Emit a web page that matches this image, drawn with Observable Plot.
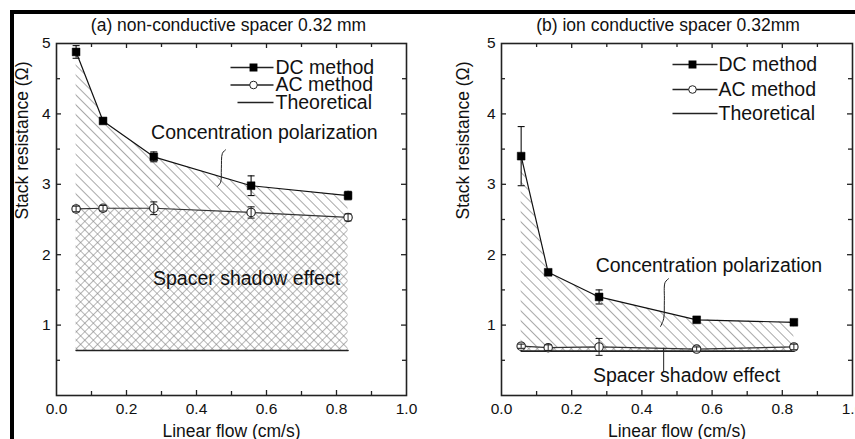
<!DOCTYPE html>
<html><head><meta charset="utf-8">
<script src="https://cdn.jsdelivr.net/npm/d3@7"></script>
<script src="https://cdn.jsdelivr.net/npm/@observablehq/plot@0.6"></script>
<style>
html,body{margin:0;padding:0;background:#fff;}
#wrap{position:relative;width:855px;height:439px;overflow:hidden;background:#fff;}
.panel{position:absolute;top:0;}
#border{position:absolute;left:10px;top:10px;width:900px;height:500px;border-left:4px solid #000;border-top:4px solid #000;pointer-events:none;}
</style></head><body>
<div id="wrap"><div id="pa" class="panel" style="left:0"></div><div id="pb" class="panel" style="left:427px"></div><div id="border"></div></div>
<script>
// ---- data ----
const flow = [0.056, 0.133, 0.278, 0.556, 0.833];
const dcA = [4.88, 3.90, 3.39, 2.98, 2.84];
const dcAErr = [0.09, 0.03, 0.07, 0.14, 0.06];
const acA = [2.65, 2.66, 2.66, 2.60, 2.53];
const acAErr = [0.04, 0.04, 0.09, 0.08, 0.05];
const theoA = 0.64;
const dcB = [3.40, 1.75, 1.40, 1.075, 1.04];
const dcBErr = [0.42, 0.03, 0.10, 0.03, 0.03];
const acB = [0.70, 0.68, 0.69, 0.66, 0.69];
const acBErr = [0.03, 0.04, 0.12, 0.03, 0.04];
const theoB = 0.63;
const xTickLabels = [0, 0.2, 0.4, 0.6, 0.8, 1.0];
const yTickLabels = [1, 2, 3, 4, 5];
const xMajor = [0.2, 0.4, 0.6, 0.8];
const xMinor = [0.1, 0.3, 0.5, 0.7, 0.9];
const yMajor = [1, 2, 3, 4];
const yMinor = [0.5, 1.5, 2.5, 3.5, 4.5];
const legendLabels = ["DC method", "AC method", "Theoretical"];
const titles = ["(a) non-conductive spacer 0.32 mm", "(b) ion conductive spacer 0.32mm"];
const xLabel = "Linear flow (cm/s)";
const yLabel = "Stack resistance (\u03A9)";
// annotation anchors (data coordinates)
const braceA = [[0.483, 3.49], [0.474, 3.44], [0.471, 3.22], [0.469, 3.03], [0.460, 2.97]];
const braceB = [[0.476, 1.66], [0.466, 1.605], [0.464, 1.35], [0.462, 1.09], [0.453, 0.98]];
const notesA = [{x: 0.594, y: 3.73, t: "Concentration polarization"}, {x: 0.543, y: 1.66, t: "Spacer shadow effect"}];
const notesB = [{x: 0.591, y: 1.84, t: "Concentration polarization"}, {x: 0.527, y: 0.28, t: "Spacer shadow effect"}];
const shadowLineB = {x: 0.462, y1: 0.33, y2: 0.67};

const FONT = "'Liberation Sans', Arial, Helvetica, sans-serif";
const hline = {draw(ctx, size) { const r = Math.sqrt(size / Math.PI); ctx.moveTo(-r, 0); ctx.lineTo(r, 0); }};

function panel(cfg) {
  const rows = flow.map((x, i) => ({x, dc: cfg.dc[i], dcErr: cfg.dcErr[i], ac: cfg.ac[i], acErr: cfg.acErr[i], th: cfg.theo}));
  const W = cfg.width, H = 439, mt = 43, mb = 44, ml = cfg.ml, mr = cfg.mr;
  const fw = W - ml - mr, fh = H - mt - mb;
  const tc = "#222";
  const legend = legendLabels.flatMap((label, i) => {
    const dy = cfg.legRows[i];
    const m = [Plot.dot([0], {x: null, y: null, frameAnchor: "top-right", dx: cfg.legLine[i][0], dy, symbol: hline, r: cfg.legLine[i][1], stroke: "#222", strokeWidth: 1.3, fill: "none"})];
    if (i === 0) m.push(Plot.dot([0], {x: null, y: null, frameAnchor: "top-right", dx: cfg.legMark, dy, symbol: "square", r: 3.6, fill: "#000", stroke: "#000"}));
    if (i === 1) m.push(Plot.dot([0], {x: null, y: null, frameAnchor: "top-right", dx: cfg.legMark, dy, symbol: "circle", r: 3.8, fill: "#fff", stroke: "#222", strokeWidth: 1}));
    m.push(Plot.text([label], {x: null, y: null, frameAnchor: "top-right", lineAnchor: "middle", dx: cfg.legText, dy, textAnchor: "start", fontSize: 19.5, fill: "#111"}));
    return m;
  });
  const svg = Plot.plot({
    width: W, height: H, marginTop: mt, marginBottom: mb, marginLeft: ml, marginRight: mr,
    style: {fontFamily: FONT, fontSize: "15.5px", color: "#111", background: "white"},
    x: {domain: [0, 1]},
    y: {domain: [0, 5]},
    marks: [
      Plot.areaY(rows, {x: "x", y1: "th", y2: "ac", fill: `url(#xh-${cfg.id})`}),
      Plot.areaY(rows, {x: "x", y1: "ac", y2: "dc", fill: `url(#dg-${cfg.id})`}),
      Plot.line(rows, {x: "x", y: "th", stroke: "#222", strokeWidth: 1.6}),
      Plot.line(rows, {x: "x", y: "ac", stroke: "#333", strokeWidth: 1.2}),
      Plot.line(rows, {x: "x", y: "dc", stroke: "#111", strokeWidth: 1.2}),
      Plot.ruleX(rows, {x: "x", y1: d => d.dc - d.dcErr, y2: d => d.dc + d.dcErr, stroke: "#111", strokeWidth: 1.1}),
      Plot.dot(rows, {x: "x", y: d => d.dc + d.dcErr, symbol: hline, r: 3.5, stroke: "#111", fill: "none", strokeWidth: 1.1}),
      Plot.dot(rows, {x: "x", y: d => d.dc - d.dcErr, symbol: hline, r: 3.5, stroke: "#111", fill: "none", strokeWidth: 1.1}),
      Plot.dot(rows, {x: "x", y: "ac", symbol: "circle", r: 4.2, fill: "#fff", stroke: "#222", strokeWidth: 1.1}),
      Plot.ruleX(rows, {x: "x", y1: d => d.ac - d.acErr, y2: d => d.ac + d.acErr, stroke: "#222", strokeWidth: 1}),
      Plot.dot(rows, {x: "x", y: d => d.ac + d.acErr, symbol: hline, r: 3.5, stroke: "#222", fill: "none", strokeWidth: 1.1}),
      Plot.dot(rows, {x: "x", y: d => d.ac - d.acErr, symbol: hline, r: 3.5, stroke: "#222", fill: "none", strokeWidth: 1.1}),
      Plot.dot(rows, {x: "x", y: "dc", symbol: "square", r: 4.4, fill: "#000", stroke: "#000", strokeWidth: 0.5}),
      Plot.line(cfg.brace, {x: d => d[0], y: d => d[1], curve: "catmull-rom", stroke: "#222", strokeWidth: 1}),
      ...(cfg.shadowLine ? [Plot.ruleX([cfg.shadowLine], {x: "x", y1: "y1", y2: "y2", stroke: "#222", strokeWidth: 1})] : []),
      Plot.text(cfg.notes, {x: "x", y: "y", text: "t", fontSize: 19.5, fill: "#111"}),
      // frame and inward ticks
      Plot.frame({stroke: tc, strokeWidth: 1.6}),
      Plot.tickY(yMajor, {y: d => d, insetRight: fw - 5, stroke: tc, strokeWidth: 1.3}),
      Plot.tickY(yMinor, {y: d => d, insetRight: fw - 4, stroke: tc, strokeWidth: 1.3}),
      Plot.tickY(yMajor, {y: d => d, insetLeft: fw - 5, stroke: tc, strokeWidth: 1.3}),
      Plot.tickY(yMinor, {y: d => d, insetLeft: fw - 4, stroke: tc, strokeWidth: 1.3}),
      Plot.tickX(xMajor, {x: d => d, insetTop: fh - 5, stroke: tc, strokeWidth: 1.3}),
      Plot.tickX(xMinor, {x: d => d, insetTop: fh - 4, stroke: tc, strokeWidth: 1.3}),
      Plot.tickX(xMajor, {x: d => d, insetBottom: fh - 5, stroke: tc, strokeWidth: 1.3}),
      Plot.tickX(xMinor, {x: d => d, insetBottom: fh - 4, stroke: tc, strokeWidth: 1.3}),
      Plot.axisX(xTickLabels, {tickSize: 0, tickPadding: 7, tickFormat: d3.format(".1f"), label: null, fill: "#111"}),
      Plot.axisY(yTickLabels, {tickSize: 0, tickPadding: 6, tickFormat: d3.format("d"), label: null, fill: "#111"}),
      Plot.text([cfg.title], {x: null, y: null, frameAnchor: "top", lineAnchor: "middle", dx: cfg.titleDx, dy: -18.5, fontSize: 17.5, fill: "#111"}),
      Plot.text([xLabel], {x: null, y: null, frameAnchor: "bottom", lineAnchor: "middle", dy: 36, fontSize: 17.5, fill: "#111"}),
      Plot.text([yLabel], {x: null, y: null, frameAnchor: "left", lineAnchor: "middle", dx: cfg.ylabDx, rotate: -90, fontSize: 17.5, fill: "#111"}),
      ...legend
    ]
  });
  d3.select(svg).insert("defs", ":first-child").html(`
    <pattern id="dg-${cfg.id}" patternUnits="userSpaceOnUse" width="7" height="7" patternTransform="rotate(-45)">
      <line x1="0" y1="-1" x2="0" y2="8" stroke="#7f7f7f" stroke-width="1.35"/>
    </pattern>
    <pattern id="xh-${cfg.id}" patternUnits="userSpaceOnUse" width="6" height="6" patternTransform="rotate(45)">
      <line x1="0" y1="-1" x2="0" y2="7" stroke="#858585" stroke-width="1.2"/>
      <line x1="-1" y1="0" x2="7" y2="0" stroke="#858585" stroke-width="1.2"/>
    </pattern>`);
  return svg;
}

document.getElementById("pa").appendChild(panel({
  id: "a", width: 427, ml: 56, mr: 21,
  dc: dcA, dcErr: dcAErr, ac: acA, acErr: acAErr, theo: theoA,
  brace: braceA, notes: notesA, shadowLine: null,
  title: titles[0], titleDx: -3, ylabDx: -34,
  legRows: [24, 41.5, 59], legLine: [[-154.5, 21.5], [-154.5, 21.5], [-151, 18]], legMark: -153, legText: -131
}));
document.getElementById("pb").appendChild(panel({
  id: "b", width: 428, ml: 74, mr: 3,
  dc: dcB, dcErr: dcBErr, ac: acB, acErr: acBErr, theo: theoB,
  brace: braceB, notes: notesB, shadowLine: shadowLineB,
  title: titles[1], titleDx: -9, ylabDx: -38,
  legRows: [21, 46, 70], legLine: [[-157.5, 22.5], [-157.5, 22.5], [-157.5, 22.5]], legMark: -160, legText: -134
}));
</script>
</body></html>
